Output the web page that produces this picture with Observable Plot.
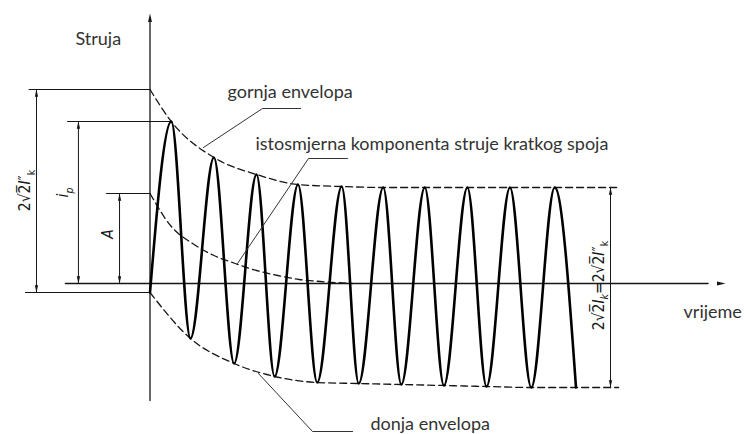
<!DOCTYPE html>
<html><head><meta charset="utf-8">
<script src="https://cdn.jsdelivr.net/npm/d3@7"></script>
<script src="https://cdn.jsdelivr.net/npm/@observablehq/plot@0.6"></script>
<style>html,body{margin:0;padding:0;background:#fff}svg{display:block}</style>
</head><body><div id="chart"></div>
<script>
// ---- data (time in ms, 50 Hz => 20 ms period; current in drawing units, time axis = 0) ----
const startValue = -9;                                   // current at t = 0
const peakTimes   = [10, 30, 50, 69.5, 90, 109.5, 129, 149, 169, 190];
const peakValues  = [162, 126, 109, 99, 97, 96, 96, 96, 96, 96];
const troughTimes = [19, 39.5, 58.5, 78.5, 98, 118, 138, 158, 179, 200];
const troughValues= [-55, -80, -93, -99, -100, -101, -102, -103, -104, -104];
const upperEnvTimes  = [0, 10, 30, 50, 69.5, 90, 109.5, 220];
const upperEnvValues = [194, 162, 126, 109, 99, 97, 96, 96];
const lowerEnvTimes  = [0, 19, 39.5, 58.5, 78.5, 98, 118, 138, 158, 179, 200, 220];
const lowerEnvValues = [-9, -55, -80, -93, -99, -100, -101, -102, -103, -104, -104, -104];
const dcTimes  = [0, 10, 20, 30, 40, 50, 60, 70, 80, 95];
const dcValues = [90, 57, 40, 28, 20, 13, 8, 4, 2, 0];
const axisLabels = ["Struja", "vrijeme"];
const calloutLabels = ["gornja envelopa", "istosmjerna komponenta struje kratkog spoja", "donja envelopa"];
// '~' toggles italic, '_' makes next char a subscript
const dimLabels = ["2√2\u0305~I~″_k", "~i_p~", "~A~", "2√2\u0305~I_k~=2√2\u0305~I~″_k"];

// ---- layout ----
const W = 744, H = 434;
const X0 = 149.5, PX_PER_MS = 2.13, Y0 = 283;
const ink = "#161616", txt = "#333";

const wave = [{t: 0, v: startValue}];
peakTimes.forEach((t, i) => { wave.push({t, v: peakValues[i]}); wave.push({t: troughTimes[i], v: troughValues[i]}); });
const upper = upperEnvTimes.map((t, i) => ({t, v: upperEnvValues[i]}));
const lower = lowerEnvTimes.map((t, i) => ({t, v: lowerEnvValues[i]}));
const dc = dcTimes.map((t, i) => ({t, v: dcValues[i]}));

const i0Up = upperEnvValues[0], i0Lo = lowerEnvValues[0];
const ip = peakValues[0], A = dcValues[0];
const endUp = upperEnvValues.at(-1), endLo = lowerEnvValues.at(-1);

const seg = (pts) => pts.map(([t, v]) => ({t, v}));
const thin = {x: "t", y: "v", stroke: ink, strokeWidth: 1};

// custom narrow arrowhead, tip at origin pointing up
const arrowSym = {draw(ctx, size) {
  const r = Math.sqrt(size / Math.PI);
  ctx.moveTo(0, 0); ctx.lineTo(r * 0.55, r * 2.4); ctx.lineTo(-r * 0.55, r * 2.4); ctx.closePath();
}};

const heads = [
  {t: 0, v: 270, rot: 0, r: 4.2},
  {t: 270.2, v: 0, rot: 90, r: 4.2},
  {t: -53.3, v: i0Up, rot: 0, r: 3}, {t: -53.3, v: i0Lo, rot: 180, r: 3},
  {t: -33.6, v: ip, rot: 0, r: 3}, {t: -33.6, v: 0, rot: 180, r: 3},
  {t: -14.3, v: A, rot: 0, r: 3}, {t: -14.3, v: 0, rot: 180, r: 3},
  {t: 216.2, v: endUp, rot: 0, r: 3}, {t: 216.2, v: endLo, rot: 180, r: 3}
];

const mathFont = "'Liberation Sans Narrow', 'DejaVu Sans Condensed', 'Liberation Sans', sans-serif";
const dash = {x: "t", y: "v", curve: "monotone-x", stroke: ink, strokeWidth: 1.3, strokeDasharray: "7,4"};

const marks = [
  // axes
  Plot.line(seg([[0, -117], [0, 262]]), {...thin, strokeWidth: 1.3}),
  Plot.line(seg([[-39.7, 0], [262, 0]]), {...thin, strokeWidth: 1.3}),
  // extension lines
  Plot.line(seg([[-56.8, i0Up], [0, i0Up]]), thin),
  Plot.line(seg([[-38.7, ip], [peakTimes[0], ip]]), thin),
  Plot.line(seg([[-20.4, A], [0, A]]), thin),
  Plot.line(seg([[-58.5, i0Lo], [0, i0Lo]]), thin),
  // dimension lines
  Plot.line(seg([[-53.3, i0Lo], [-53.3, i0Up]]), thin),
  Plot.line(seg([[-33.6, 0], [-33.6, ip]]), thin),
  Plot.line(seg([[-14.3, 0], [-14.3, A]]), thin),
  Plot.line(seg([[216.2, endLo], [216.2, endUp]]), thin),
  Plot.dot(heads, {x: "t", y: "v", rotate: "rot", r: "r", symbol: arrowSym, fill: ink, stroke: "none"}),
  // envelopes and DC component
  Plot.line(upper, dash),
  Plot.line(lower, dash),
  Plot.line(dc, dash),
  // waveform
  Plot.line(wave, {x: "t", y: "v", curve: "monotone-x", stroke: "#000", strokeWidth: 2.6, strokeLinejoin: "round"}),
  // leaders
  Plot.line(seg([[25.1, 136], [52.8, 175], [70.7, 175]]), {...thin, stroke: "#333"}),
  Plot.line(seg([[41.1, 20], [74.4, 125], [92.7, 125]]), {...thin, stroke: "#333"}),
  Plot.line(seg([[50.9, -90], [76.3, -148], [95.1, -148]]), {...thin, stroke: "#333"}),
  // text labels
  Plot.text([
    {t: -35, v: 244, s: axisLabels[0]},
    {t: 250.5, v: -29, s: axisLabels[1]},
    {t: 36.4, v: 191, s: calloutLabels[0]},
    {t: 49.5, v: 139, s: calloutLabels[1]},
    {t: 103.5, v: -141, s: calloutLabels[2]}
  ], {x: "t", y: "v", text: "s", textAnchor: "start", fontSize: 18, fontFamily: "Lato", fill: txt}),
  Plot.text([
    {t: -58.5, v: 93, s: dimLabels[0]},
    {t: -40.6, v: 91, s: dimLabels[1]},
    {t: -19.7, v: 49.5, s: dimLabels[2]},
    {t: 210.6, v: -2, s: dimLabels[3]}
  ], {x: "t", y: "v", text: "s", rotate: -90, textAnchor: "middle", fontSize: 15.5, fontFamily: mathFont, fill: ink})
];

const chart = Plot.plot({
  width: W, height: H, margin: 0,
  x: {domain: [-X0 / PX_PER_MS, (W - X0) / PX_PER_MS], axis: null},
  y: {domain: [Y0 - H, Y0], axis: null},
  style: {background: "#fff", overflow: "visible"},
  marks
});

// rich text: italic (~) and subscripts (_), grouped into runs
chart.querySelectorAll("text").forEach(el => {
  const s = el.textContent;
  if (!/[~_]/.test(s)) return;
  const fs = parseFloat(el.getAttribute("font-size") || getComputedStyle(el).fontSize) || 15;
  const runs = [];
  let italic = false, cur = null;
  for (let i = 0; i < s.length; i++) {
    const c = s[i];
    if (c === "~") { italic = !italic; cur = null; continue; }
    if (c === "_") { runs.push({text: s[++i], italic, sub: true}); cur = null; continue; }
    if (!cur) { cur = {text: "", italic, sub: false}; runs.push(cur); }
    cur.text += c;
  }
  while (el.firstChild) el.removeChild(el.firstChild);
  const ns = "http://www.w3.org/2000/svg";
  let shift = 0;
  runs.forEach(r => {
    const ts = document.createElementNS(ns, "tspan");
    ts.textContent = r.text;
    if (r.italic) ts.setAttribute("font-style", "italic");
    if (r.sub) {
      ts.setAttribute("font-size", fs * 0.7);
      ts.setAttribute("dy", fs * 0.28 - shift); shift = fs * 0.28;
    } else if (shift) { ts.setAttribute("dy", -shift); shift = 0; }
    el.appendChild(ts);
  });
});

document.getElementById("chart").appendChild(chart);
</script>
</body></html>
